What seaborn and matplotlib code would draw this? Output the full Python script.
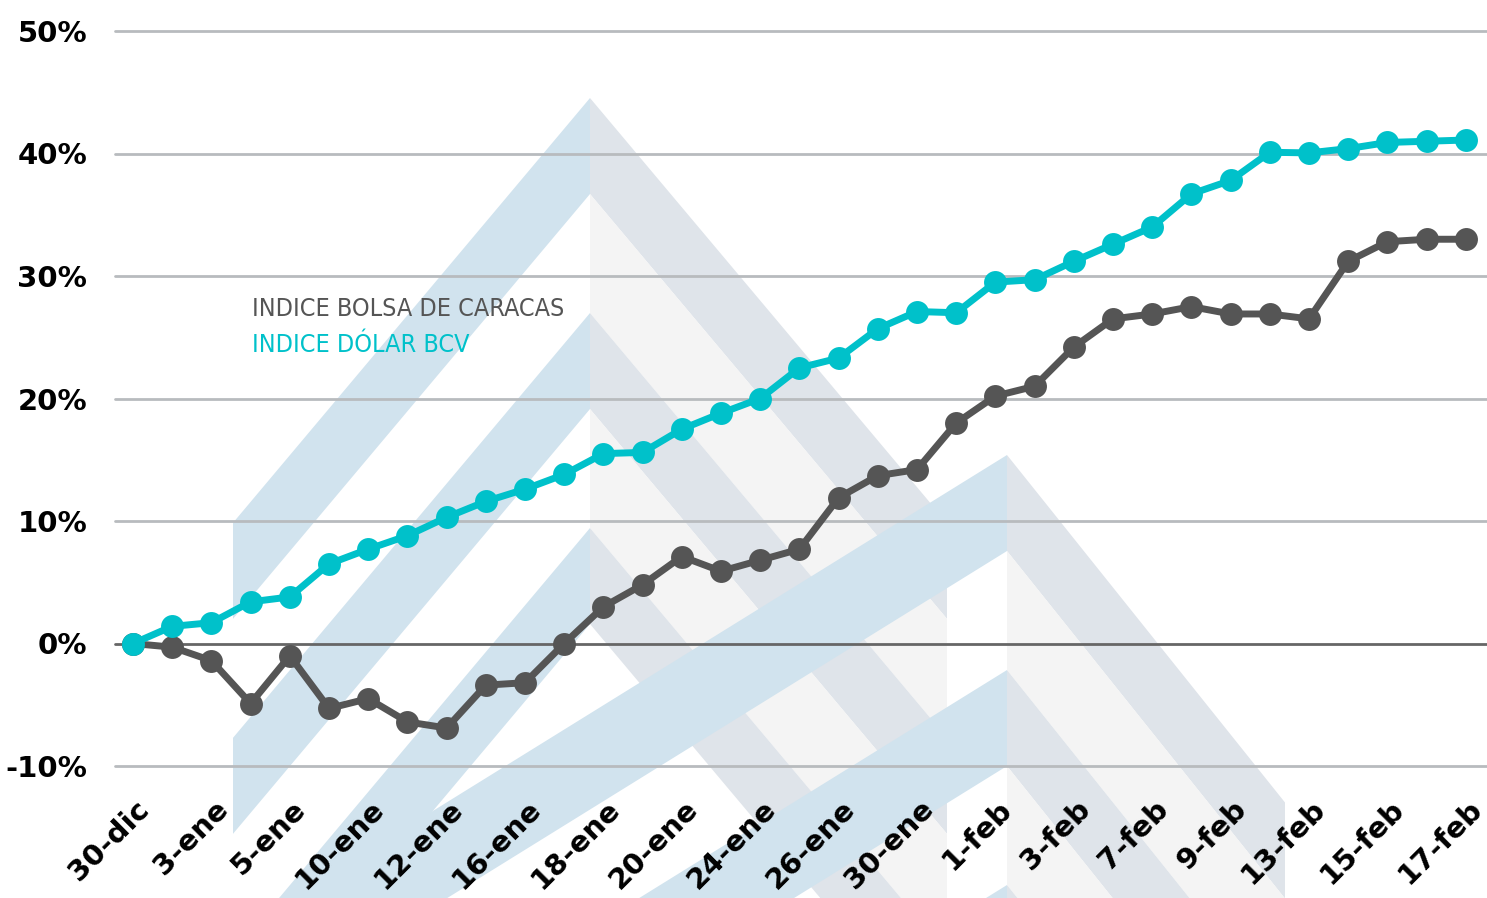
import matplotlib
matplotlib.use('Agg')
import matplotlib.pyplot as plt
from matplotlib.patches import Polygon
from matplotlib.transforms import ScaledTranslation
import pandas as pd
import numpy as np
import seaborn as sns

# fechas (30-dic al 17-feb), etiquetas cada dos puntos
fechas = ['30-dic', '2-ene', '3-ene', '4-ene', '5-ene', '9-ene', '10-ene', '11-ene',
          '12-ene', '13-ene', '16-ene', '17-ene', '18-ene', '19-ene', '20-ene', '23-ene',
          '24-ene', '25-ene', '26-ene', '27-ene', '30-ene', '31-ene', '1-feb', '2-feb',
          '3-feb', '6-feb', '7-feb', '8-feb', '9-feb', '10-feb', '13-feb', '14-feb',
          '15-feb', '16-feb', '17-feb']

# variacion acumulada (%)
bolsa = [0, -0.3, -1.4, -4.9, -1.0, -5.3, -4.5, -6.4, -6.9, -3.4, -3.2, 0.0,
         3.0, 4.8, 7.1, 5.9, 6.8, 7.7, 11.9, 13.7, 14.2, 18.0, 20.2, 21.0,
         24.2, 26.5, 26.9, 27.5, 26.9, 26.9, 26.5, 31.2, 32.8, 33.0, 33.0]
dolar = [0, 1.4, 1.7, 3.4, 3.8, 6.5, 7.7, 8.8, 10.3, 11.6, 12.6, 13.8,
         15.5, 15.6, 17.5, 18.8, 20.0, 22.5, 23.3, 25.7, 27.1, 27.0, 29.5, 29.7,
         31.2, 32.6, 34.0, 36.7, 37.8, 40.1, 40.05, 40.4, 40.9, 41.0, 41.1]

yticks = [-10, 0, 10, 20, 30, 40, 50]

gris = '#555555'
cian = '#00C1CA'

W, H = 1487, 898

df = pd.DataFrame({'pos': range(len(fechas)), 'fecha': fechas,
                   'bolsa': bolsa, 'dolar': dolar})

sns.set_style('white')
fig = plt.figure(figsize=(W / 100, H / 100), dpi=100)
ax = fig.add_axes([115 / W, (H - 766) / H, 1 - 115 / W, (766 - 31) / H])
ax.set_facecolor('none')
ax.set_axisbelow(False)

for y in yticks:
    if y == 0:
        ax.axhline(0, color='#666666', lw=2, zorder=1, clip_on=False)
    else:
        ax.axhline(y, color='#B8BBBE', lw=2, zorder=1, clip_on=False)


# marca de agua (logo de chevrones), en pixeles de la figura
def fpx(pts):
    return [(x / W, 1 - y / H) for x, y in pts]


def logo(cx, cy, sl, sr, xl, xr, n, z, per=215, t=96):
    for k in range(n):
        y0 = cy + k * per
        izq = [(cx, y0), (xl, y0 + sl * (cx - xl)), (xl, y0 + sl * (cx - xl) + t), (cx, y0 + t)]
        der = [(cx, y0), (xr, y0 + sr * (xr - cx)), (xr, y0 + sr * (xr - cx) + t), (cx, y0 + t)]
        hueco = [(cx, y0 + t), (xr, y0 + t + sr * (xr - cx)),
                 (xr, y0 + per + sr * (xr - cx)), (cx, y0 + per)]
        piezas = [(izq, '#D1E3EE'), (der, '#DFE4EA')]
        if k < n - 1:
            piezas.append((hueco, '#F4F4F4'))
        for pts, c in piezas:
            ax.add_patch(Polygon(fpx(pts), closed=True, transform=fig.transFigure,
                                 facecolor=c, lw=0, zorder=z, clip_on=False))


logo(590, 98, 1.19, 1.19, 233, 947, 3, 0.6)
logo(1007, 455, 0.62, 1.25, 233, 1285, 3, 0.7)

sns.lineplot(data=df, x='pos', y='bolsa', ax=ax, color=gris, lw=5,
             marker='o', markersize=16.5, markeredgewidth=0, zorder=3)
sns.lineplot(data=df, x='pos', y='dolar', ax=ax, color=cian, lw=5,
             marker='o', markersize=16.5, markeredgewidth=0, zorder=4)

ax.set_xlim(-0.46, len(fechas) - 1 + 0.54)
ax.set_ylim(-10, 50)
for s in ax.spines.values():
    s.set_visible(False)

ax.set_yticks(yticks)
ax.set_yticklabels([f'{v}%' for v in yticks], fontsize=21, fontweight='bold',
                   family='DejaVu Sans', color='black')
ax.tick_params(axis='y', length=0, pad=20)

ax.set_xticks(df['pos'][::2])
ax.set_xticklabels(df['fecha'][::2], rotation=45, ha='right', va='center',
                   rotation_mode='anchor', fontsize=21, fontweight='bold',
                   family='DejaVu Sans', color='black')
ax.tick_params(axis='x', length=0, pad=28)
desplazar = ScaledTranslation(12 / 100, 0, fig.dpi_scale_trans)
for lab in ax.get_xticklabels():
    lab.set_transform(lab.get_transform() + desplazar)
ax.set_xlabel('')
ax.set_ylabel('')
ax.grid(False)

fig.text(252 / W, 1 - 309 / H, 'INDICE BOLSA DE CARACAS', fontsize=18, color=gris,
         family='DejaVu Sans', fontstretch='condensed', va='center', ha='left')
fig.text(252 / W, 1 - 345 / H, 'INDICE DÓLAR BCV', fontsize=18, color=cian,
         family='DejaVu Sans', fontstretch='condensed', va='center', ha='left')

fig.savefig('out.png', dpi=100)
